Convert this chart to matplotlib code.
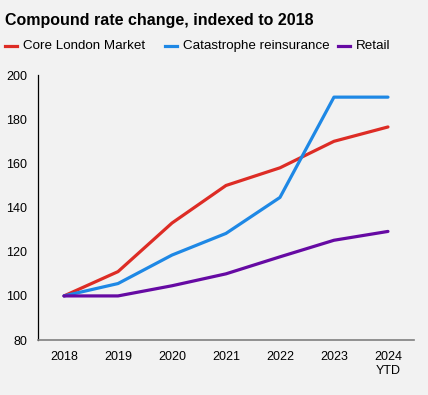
import matplotlib.pyplot as plt
from matplotlib.lines import Line2D

years = ['2018', '2019', '2020', '2021', '2022', '2023', '2024\nYTD']
labels = ['Core London Market', 'Catastrophe reinsurance', 'Retail']
core_london = [100, 111, 133, 150, 158, 170, 176.5]
cat_reins = [100, 105.6, 118.5, 128.3, 144.6, 190, 190]
retail = [100, 100, 104.6, 110, 117.7, 125.2, 129.2]
colors = ['#dd2c25', '#1e88e5', '#660aa3']

plt.rcParams['font.family'] = ['Liberation Sans', 'DejaVu Sans']
bg = '#f2f2f2'

fig = plt.figure(figsize=(4.28, 3.95), dpi=100, facecolor=bg)
ax = fig.add_axes([0.089, 0.139, 0.878, 0.671], facecolor=bg)

x = range(len(years))
for series, lab, col in zip([core_london, cat_reins, retail], labels, colors):
    ax.plot(x, series, color=col, lw=2.3, label=lab, solid_capstyle='round')

ax.set_xlim(-0.48, 6.48)
ax.set_ylim(80, 200)
ax.set_yticks(range(80, 201, 20))
ax.set_xticks(list(x))
ax.set_xticklabels(years)
ax.tick_params(length=0, labelsize=9, pad=8)
ax.tick_params(axis='y', pad=8)

for s in ['top', 'right']:
    ax.spines[s].set_visible(False)
ax.spines['left'].set_color('black')
ax.spines['left'].set_linewidth(0.9)
ax.spines['bottom'].set_color('#7f7f7f')
ax.spines['bottom'].set_linewidth(1.2)

fig.text(0.012, 0.949, 'Compound rate change, indexed to 2018', fontsize=11.5,
         fontweight='bold', va='center', ha='left')

# legend laid out by hand to keep the uneven spacing of the original
W, H = 428.0, 395.0
leg_y = 1 - 46 / H
handle_x = [5, 165, 338]
for hx, lab, col in zip(handle_x, labels, colors):
    fig.add_artist(Line2D([hx / W, (hx + 12) / W], [leg_y, leg_y], color=col, lw=2.3,
                          transform=fig.transFigure))
    fig.text((hx + 18) / W, leg_y, lab, fontsize=9.6, va='center', ha='left')

fig.savefig('out.png', dpi=100, facecolor=bg)
